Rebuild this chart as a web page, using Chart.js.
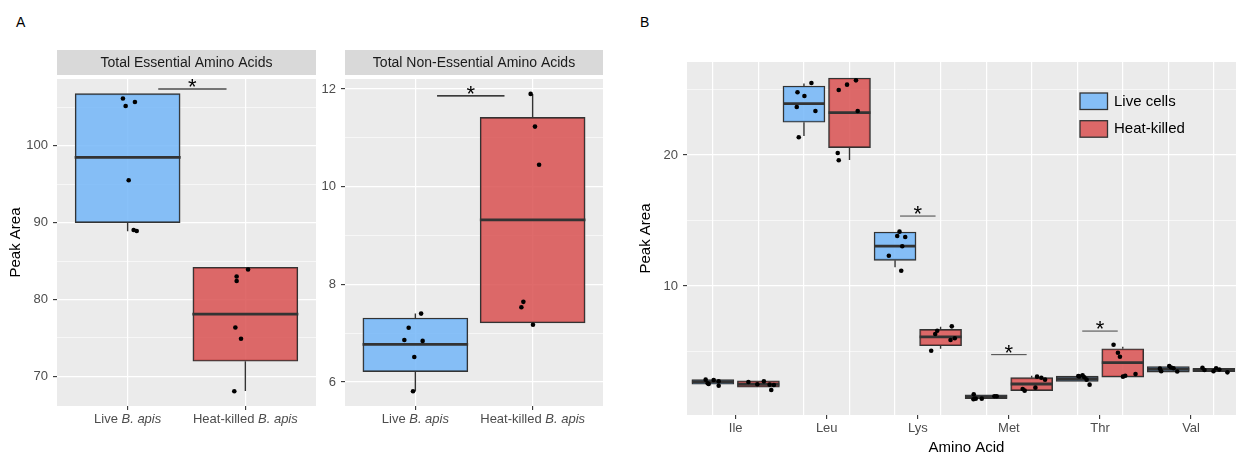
<!DOCTYPE html>
<html lang="en">
<head>
<meta charset="UTF-8">
<title>Peak area of amino acids, live vs heat-killed B. apis</title>
<script src="https://cdn.jsdelivr.net/npm/chart.js"></script>
<style>
  html, body { margin: 0; padding: 0; overflow: hidden; background: #fff; }
  body { position: relative; width: 1236px; height: 458px; font-family: "Liberation Sans", Arial, sans-serif; }
  canvas { position: absolute; top: 0; }
  .tag { position: absolute; top: 14px; font-size: 14px; color: #000; }
</style>
</head>
<body>
<div class="tag" style="left:16px">A</div>
<div class="tag" style="left:640px">B</div>
<canvas id="ess" width="320" height="458" style="left:0"></canvas>
<canvas id="non" width="290" height="458" style="left:320px"></canvas>
<canvas id="amino" width="620" height="458" style="left:630px"></canvas>

<script>
// ---- panel A, total essential amino acids (live, heat-killed)
const essLow  = [88.9, 68.1];
const essQ1   = [90.0, 71.96];
const essMed  = [98.5, 78.1];
const essQ3   = [106.8, 84.2];
const essHigh = [106.8, 84.2];
const essLivePts = [106.17, 105.19, 105.71, 95.53, 89.05, 88.92];
const essLiveJit = [-0.04, -0.017, 0.062, 0.009, 0.051, 0.077];
const essHeatPts = [83.0, 82.4, 83.9, 76.35, 74.9, 68.05];
const essHeatJit = [-0.074, -0.074, 0.023, -0.085, -0.037, -0.094];
const essSig = [1.26, 1.84, 107.4];

// ---- panel A, total non-essential amino acids
const nonLow  = [5.81, 7.17];
const nonQ1   = [6.21, 7.21];
const nonMed  = [6.77, 9.32];
const nonQ3   = [7.31, 11.42];
const nonHigh = [7.40, 11.90];
const nonLivePts = [7.40, 7.11, 6.86, 6.84, 6.51, 5.81];
const nonLiveJit = [0.049, -0.057, -0.094, 0.062, -0.009, -0.02];
const nonHeatPts = [11.90, 11.23, 10.45, 7.64, 7.53, 7.17];
const nonHeatJit = [-0.017, 0.02, 0.055, -0.079, -0.096, 0.003];
const nonSig = [1.185, 1.76, 11.86];

// ---- panel B, single amino acids
const aminoAcids = ['Ile', 'Leu', 'Lys', 'Met', 'Thr', 'Val'];
const liveLow  = [2.50, 21.45, 11.43, 1.40, 2.72, 3.43];
const liveQ1   = [2.50, 22.50, 11.96, 1.40, 2.72, 3.43];
const liveMed  = [2.70, 23.92, 13.05, 1.55, 2.92, 3.64];
const liveQ3   = [2.86, 25.27, 14.12, 1.70, 3.12, 3.85];
const liveHigh = [2.86, 25.45, 14.12, 1.70, 3.12, 3.85];
const heatLow  = [2.27, 19.62, 5.21, 2.01, 3.05, 3.46];
const heatQ1   = [2.27, 20.56, 5.44, 2.01, 3.05, 3.46];
const heatMed  = [2.50, 23.23, 6.11, 2.52, 4.15, 3.58];
const heatQ3   = [2.77, 25.88, 6.69, 3.00, 5.21, 3.72];
const heatHigh = [2.77, 25.88, 6.89, 3.15, 5.37, 3.72];
const livePts = [
  [2.85, 2.52, 2.82, 2.72, 2.39, 2.58],
  [25.5, 24.79, 24.5, 23.66, 23.36, 21.35],
  [14.15, 13.82, 13.74, 13.03, 12.31, 11.17],
  [1.73, 1.35, 1.40, 1.40, 1.58, 1.58],
  [3.13, 3.18, 3.03, 2.85, 2.47, 3.10],
  [3.69, 3.49, 3.89, 3.72, 3.47, 3.78]
];
const liveJit = [
  [-0.079, -0.046, 0.009, 0.064, 0.064, -0.057],
  [0.082, -0.071, 0.005, -0.079, 0.126, -0.057],
  [0.049, 0.024, 0.112, 0.079, -0.068, 0.068],
  [-0.136, -0.139, -0.114, -0.048, 0.091, 0.116],
  [0.012, 0.059, 0.078, 0.103, 0.136, 0.023],
  [-0.092, -0.078, 0.01, 0.057, 0.098, 0.03]
];
const heatPts = [
  [2.67, 2.50, 2.72, 2.47, 2.44, 2.06],
  [24.96, 25.37, 25.70, 23.36, 20.15, 19.60],
  [6.92, 6.59, 6.34, 6.01, 5.88, 5.06],
  [3.08, 3.00, 2.85, 2.24, 2.14, 2.01],
  [5.52, 4.91, 4.60, 3.08, 3.15, 3.28],
  [3.76, 3.59, 3.49, 3.72, 3.41, 3.62]
];
const heatJit = [
  [-0.11, -0.012, 0.06, 0.123, 0.17, 0.141],
  [-0.118, -0.027, 0.071, 0.09, -0.129, -0.118],
  [0.123, -0.037, -0.059, 0.156, 0.109, -0.103],
  [0.059, 0.106, 0.147, 0.041, -0.099, -0.077],
  [-0.101, -0.053, -0.031, 0.002, 0.027, 0.14],
  [-0.125, -0.103, -0.004, 0.025, 0.149, 0.06]
];
const sigAcids = ['Lys', 'Met', 'Thr'];
const sigLevels = [15.34, 4.76, 6.56];

// ---- look
const FONT = '"Liberation Sans", Arial, sans-serif';
const BLUE = 'rgba(115,182,248,0.85)';
const RED = 'rgba(217,81,81,0.85)';
const EDGE = '#333333';
const NONE = 'rgba(0,0,0,0)';
Chart.defaults.font.family = FONT;

// line pieces [x1,y1,x2,y2] -> one dataset, broken by null points
function segs(list) {
  const out = [];
  list.forEach(s => out.push({x: s[0], y: s[1]}, {x: s[2], y: s[3]}, {x: s[2], y: null}));
  return out;
}

function boxSets(xs, low, q1, med, q3, high, fill, half, thick, label) {
  return [
    { type: 'bar', label: label, data: xs.map((x, i) => ({x: x, y: [q1[i], q3[i]]})),
      backgroundColor: fill, borderColor: EDGE, borderWidth: 1.4, borderSkipped: false,
      barThickness: thick, grouped: false, order: 3 },
    { type: 'line', data: segs(xs.map((x, i) => [x - half, med[i], x + half, med[i]])),
      borderColor: EDGE, borderWidth: 2.8, pointRadius: 0, order: 2 },
    { type: 'line', data: segs(xs.flatMap((x, i) => [[x, q3[i], x, high[i]], [x, low[i], x, q1[i]]])),
      borderColor: EDGE, borderWidth: 1.4, pointRadius: 0, order: 4 }
  ];
}

function dots(x, vals, jit) {
  return { type: 'scatter', data: vals.map((v, i) => ({x: x + jit[i], y: v})),
    backgroundColor: '#000', borderWidth: 0, pointRadius: 2.3, order: 0 };
}

function sigLine(list, color, width) {
  return { type: 'line', data: segs(list), borderColor: color, borderWidth: width, pointRadius: 0, order: 1 };
}

// background, strip, stars, italic tick labels, legend
function decor(cfg) {
  return {
    id: 'decor',
    beforeDraw(chart) {
      const {ctx, chartArea: a} = chart;
      ctx.save();
      ctx.fillStyle = '#EBEBEB';
      ctx.fillRect(a.left, a.top, a.width, a.height);
      ctx.restore();
    },
    afterDatasetsDraw(chart) {
      const {ctx, chartArea: a, scales: {x, y}} = chart;
      ctx.save();
      ctx.fillStyle = '#000';
      ctx.font = '22px ' + FONT;
      ctx.textAlign = 'center';
      ctx.textBaseline = 'alphabetic';
      (cfg.stars || []).forEach(s => ctx.fillText('*', x.getPixelForValue(s[0]), y.getPixelForValue(s[1]) + 5));
      if (cfg.legend) {
        const sets = chart.data.datasets.filter(d => d.type === 'bar');
        sets.forEach((d, i) => {
          const lx = a.left + 393, ly = a.top + 31 + i * 27.7;
          ctx.fillStyle = d.backgroundColor;
          ctx.fillRect(lx, ly, 27.5, 16.5);
          ctx.strokeStyle = EDGE;
          ctx.lineWidth = 1.3;
          ctx.strokeRect(lx, ly, 27.5, 16.5);
          ctx.fillStyle = '#000';
          ctx.font = '15px ' + FONT;
          ctx.textAlign = 'left';
          ctx.textBaseline = 'middle';
          ctx.fillText(d.label, lx + 34, ly + 8.5);
        });
      }
      ctx.restore();
    },
    afterDraw(chart) {
      const {ctx, chartArea: a, scales: {x}} = chart;
      ctx.save();
      if (cfg.strip) {
        ctx.fillStyle = '#D9D9D9';
        ctx.fillRect(a.left, 50, a.width, 25);
        ctx.fillStyle = '#1A1A1A';
        ctx.font = '14px ' + FONT;
        ctx.textAlign = 'center';
        ctx.textBaseline = 'middle';
        ctx.fillText(cfg.strip, (a.left + a.right) / 2, 63);
      }
      if (cfg.names) {
        ctx.fillStyle = '#4D4D4D';
        ctx.textBaseline = 'middle';
        ctx.textAlign = 'left';
        cfg.names.forEach((n, i) => {
          const plain = n + ' ', ital = 'B. apis';
          ctx.font = '13px ' + FONT;
          const w1 = ctx.measureText(plain).width;
          ctx.font = 'italic 13px ' + FONT;
          const w2 = ctx.measureText(ital).width;
          const cx = x.getPixelForValue(i + 1);
          const left = cx - (w1 + w2) / 2;
          ctx.font = '13px ' + FONT;
          ctx.fillText(plain, left, a.bottom + 13.5);
          ctx.font = 'italic 13px ' + FONT;
          ctx.fillText(ital, left + w1, a.bottom + 13.5);
        });
      }
      ctx.restore();
    }
  };
}

function yAxis(min, max, step, major, width, title) {
  return {
    type: 'linear', min: min, max: max,
    border: {display: false},
    grid: {
      color: '#fff',
      lineWidth: c => (Math.abs(c.tick.value % major) < 1e-9 ? 1.2 : 0.6),
      tickColor: c => (Math.abs(c.tick.value % major) < 1e-9 ? EDGE : NONE),
      tickLength: 4, tickWidth: 1.1
    },
    ticks: {
      stepSize: step, includeBounds: false, padding: 5, color: '#4D4D4D', font: {size: 13},
      callback: v => (Math.abs(v % major) < 1e-9 ? v : '')
    },
    title: title ? {display: true, text: title, color: '#000', font: {size: 15}, padding: {top: 7, bottom: 0}} : {display: false},
    afterFit: s => { s.width = width; }
  };
}

function xAxisA() {
  return {
    type: 'linear', min: 0.4, max: 2.6, offset: false,
    border: {display: false},
    grid: {color: '#fff', lineWidth: 1.2, tickColor: EDGE, tickLength: 4, tickWidth: 1.1, offset: false},
    ticks: {stepSize: 1, includeBounds: false, autoSkip: false, maxRotation: 0, callback: () => ''},
    afterFit: s => { s.height = 52; }
  };
}

const baseOpts = {
  responsive: false, animation: false, events: [],
  plugins: {legend: {display: false}, tooltip: {enabled: false}}
};

// ---- essential
new Chart(document.getElementById('ess'), {
  type: 'scatter',
  data: {datasets: [
    dots(1, essLivePts, essLiveJit),
    dots(2, essHeatPts, essHeatJit),
    sigLine([[essSig[0], essSig[2], essSig[1], essSig[2]]], '#000', 1.2),
    ...boxSets([1, 2], essLow, essQ1, essMed, essQ3, essHigh, [BLUE, RED], 0.45, 105, 'box')
  ]},
  options: {...baseOpts,
    layout: {padding: {top: 79, right: 4, left: 0, bottom: 0}},
    scales: {x: xAxisA(), y: yAxis(66.14, 108.7, 5, 10, 57, 'Peak Area')}
  },
  plugins: [decor({strip: 'Total Essential Amino Acids', names: ['Live', 'Heat-killed'],
    stars: [[(essSig[0] + essSig[1]) / 2, essSig[2]]]})]
});

// ---- non-essential
new Chart(document.getElementById('non'), {
  type: 'scatter',
  data: {datasets: [
    dots(1, nonLivePts, nonLiveJit),
    dots(2, nonHeatPts, nonHeatJit),
    sigLine([[nonSig[0], nonSig[2], nonSig[1], nonSig[2]]], '#000', 1.2),
    ...boxSets([1, 2], nonLow, nonQ1, nonMed, nonQ3, nonHigh, [BLUE, RED], 0.45, 105, 'box')
  ]},
  options: {...baseOpts,
    layout: {padding: {top: 79, right: 7, left: 0, bottom: 0}},
    scales: {x: xAxisA(), y: yAxis(5.507, 12.205, 1, 2, 25, null)}
  },
  plugins: [decor({strip: 'Total Non-Essential Amino Acids', names: ['Live', 'Heat-killed'],
    stars: [[(nonSig[0] + nonSig[1]) / 2, nonSig[2]]]})]
});

// ---- per amino acid
const liveX = aminoAcids.map((a, i) => i + 1 - 0.25);
const heatX = aminoAcids.map((a, i) => i + 1 + 0.25);
const sigX = sigAcids.map(a => aminoAcids.indexOf(a) + 1);
const frac = v => v - Math.floor(v);

new Chart(document.getElementById('amino'), {
  type: 'scatter',
  data: {datasets: [
    ...liveX.map((x, i) => dots(x, livePts[i], liveJit[i])),
    ...heatX.map((x, i) => dots(x, heatPts[i], heatJit[i])),
    sigLine(sigX.map((x, j) => [x - 0.195, sigLevels[j], x + 0.195, sigLevels[j]]), '#444', 1),
    ...boxSets(liveX, liveLow, liveQ1, liveMed, liveQ3, liveHigh, BLUE, 0.23, 42, 'Live cells'),
    ...boxSets(heatX, heatLow, heatQ1, heatMed, heatQ3, heatHigh, RED, 0.23, 42, 'Heat-killed')
  ]},
  options: {...baseOpts,
    layout: {padding: {top: 62, right: 3, left: 0, bottom: 0}},
    scales: {
      x: {
        type: 'linear', min: 0.466, max: 6.603, offset: false,
        border: {display: false},
        grid: {
          offset: false,
          color: c => (Math.abs(frac(c.tick.value) - 0.25) < 1e-9 || Math.abs(frac(c.tick.value) - 0.75) < 1e-9 ? '#fff' : NONE),
          lineWidth: 1.2,
          tickColor: c => (frac(c.tick.value) === 0 ? EDGE : NONE),
          tickLength: 4, tickWidth: 1.1
        },
        ticks: {
          stepSize: 0.25, includeBounds: false, autoSkip: false, maxRotation: 0, padding: 2,
          color: '#4D4D4D', font: {size: 13},
          callback: v => (frac(v) === 0 ? aminoAcids[v - 1] : '')
        },
        title: {display: true, text: 'Amino Acid', color: '#000', font: {size: 15}, padding: {top: 0, bottom: 1}},
        afterFit: s => { s.height = 43; }
      },
      y: yAxis(0.153, 27.1, 5, 10, 57, 'Peak Area')
    }
  },
  plugins: [decor({legend: true, stars: sigX.map((x, j) => [x, sigLevels[j]])})]
});
</script>
</body>
</html>
